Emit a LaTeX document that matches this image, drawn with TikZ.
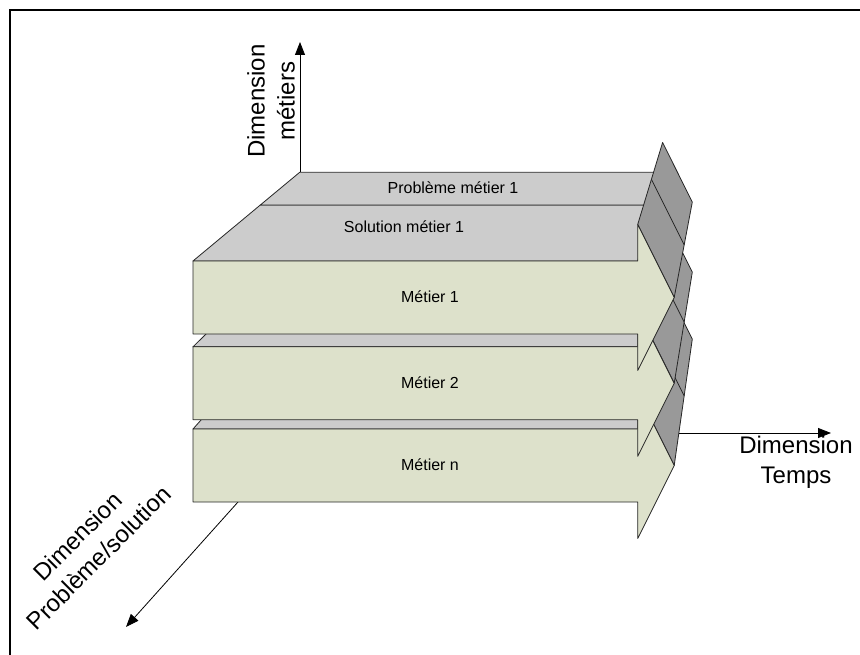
\documentclass[tikz,border=0pt]{standalone}
\usepackage{fontspec}
\setmainfont{Liberation Sans}
\usetikzlibrary{arrows.meta, positioning}
\definecolor{metiergreen}{HTML}{DDE1CB}
\definecolor{topgray}{HTML}{CCCCCC}
\definecolor{sidegray}{HTML}{999999}

\begin{document}
\begin{tikzpicture}[x=1pt, y=-1pt,
  front/.style={fill=metiergreen, draw=black!85, line width=0.8pt, line join=round},
  topface/.style={fill=topgray, draw=black!85, line width=0.8pt, line join=round},
  sideface/.style={fill=sidegray, draw=black!85, line width=0.8pt, line join=round},
  axis/.style={-{Triangle[length=13pt,width=10pt]}, line width=0.8pt},
  lbl/.style={font=\fontsize{16}{19}\selectfont},
  dimlbl/.style={font=\fontsize{24}{30}\selectfont, align=center}]
\useasboundingbox (0,0) rectangle (860,655);
% cadre
\draw[line width=1.6pt] (10,665) -- (10,10) -- (870,10);

% axes
\coordinate (vbase) at (300,172.3);
\coordinate (vtip) at (300,42);
\coordinate (tbase) at (679,433);
\coordinate (ttip) at (831,433);
\coordinate (pbase) at (238,502);
\coordinate (ptip) at (126,627);
\draw[axis] (vbase) -- (vtip);
\draw[axis] (tbase) -- (ttip);
\draw[axis] (pbase) -- (ptip);

% metier n
\draw[topface] (193,429) -- (637.7,429) -- (662.6,309.4) -- (299.7,309.4) -- cycle;
\draw[sideface] (637.7,392.5) -- (662.6,279.6) -- (692.3,339.1) -- (674.2,465.5) -- cycle;
\draw[black!85, line width=0.8pt] (651.4,330.4) -- (684.2,396);
\draw[front] (193,429) -- (637.7,429) -- (637.7,392.5) -- (674.2,465.5)
  -- (637.7,538.5) -- (637.7,502) -- (193,502) -- cycle;

% metier 2
\draw[topface] (193,346.8) -- (637.7,346.8) -- (662.6,242.3) -- (299.7,242.3) -- cycle;
\draw[sideface] (637.7,310.3) -- (662.6,212.5) -- (692.3,272.1) -- (674.2,383.3) -- cycle;
\draw[black!85, line width=0.8pt] (651.4,256.5) -- (684.2,322.1);
\draw[front] (193,346.8) -- (637.7,346.8) -- (637.7,310.3) -- (674.2,383.3)
  -- (637.7,456.3) -- (637.7,419.8) -- (193,419.8) -- cycle;

% metier 1
\draw[topface] (193,261) -- (637.7,261) -- (653.4,205.1) -- (260.2,205.1) -- cycle;
\draw[topface] (260.2,205.1) -- (653.4,205.1) -- (662.6,172.3) -- (299.7,172.3) -- cycle;
\draw[sideface] (637.7,224.5) -- (662.6,142.5) -- (692.3,202.1) -- (674.2,297.5) -- cycle;
\draw[black!85, line width=0.8pt] (651.4,179.4) -- (684.2,245);
\draw[front] (193,261) -- (637.7,261) -- (637.7,224.5) -- (674.2,297.5)
  -- (637.7,370.5) -- (637.7,334) -- (193,334) -- cycle;

% textes
\node[lbl] (probleme1) at (453,188) {Problème métier 1};
\node[lbl] (solution1) at (404,227) {Solution métier 1};
\node[lbl] (metier1) at (430,297) {Métier 1};
\node[lbl] (metier2) at (430,383) {Métier 2};
\node[lbl] (metiern) at (430,465) {Métier n};
\node[dimlbl, rotate=90] (dimmetiers) at (271,101) {Dimension\\métiers};
\node[dimlbl] (dimtemps) at (796,462) {Dimension\\Temps};
\node[dimlbl, rotate=45] (dimprob) at (88,547) {Dimension\\Problème/solution};
\end{tikzpicture}
\end{document}
